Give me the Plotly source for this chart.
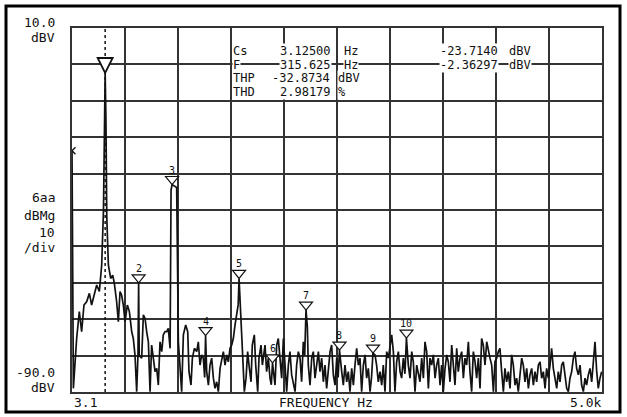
import plotly.graph_objects as go

W, H = 627, 417
L, R, T, B = 72, 25, 28, 25
PW = W - L - R
PH = H - T - B

# ---------------- data ----------------
freq_hz = [
    3.125, 16, 47, 72, 94, 116, 141, 167, 188, 211, 236, 261, 283, 300, 308, 315.625, 323, 331, 346,
    368, 387, 402, 424, 440, 456, 471, 487, 503, 525, 544, 566, 581, 597, 613, 625, 631.25, 637,
    660, 676, 692, 707, 723, 739, 754, 770, 786, 802, 817, 833, 849, 864, 880, 896, 911, 928, 937,
    946.875, 960, 975, 990, 1006, 1021, 1037, 1053, 1075, 1094, 1106, 1125, 1138, 1157, 1179, 1194,
    1210, 1226, 1241, 1254, 1262.5, 1273, 1289, 1304, 1320, 1336, 1351, 1367, 1383, 1399, 1414, 1430,
    1446, 1461, 1477, 1493, 1509, 1524, 1540, 1556, 1570, 1578.125, 1590, 1597, 1609, 1628, 1644,
    1659, 1672, 1691, 1703, 1722, 1735, 1754, 1766, 1785, 1798, 1823, 1838, 1854, 1870, 1882,
    1893.75, 1905, 1917, 1933, 1948, 1964, 1980, 1996, 2011, 2027, 2043, 2058, 2074, 2090, 2106,
    2121, 2137, 2153, 2168, 2184, 2197, 2209.375, 2222, 2231, 2247, 2263, 2278, 2294, 2310, 2326,
    2341, 2357, 2373, 2388, 2404, 2420, 2436, 2451, 2467, 2483, 2499, 2512, 2525, 2546, 2561, 2577,
    2593, 2608, 2624, 2640, 2656, 2671, 2687, 2703, 2718, 2734, 2750, 2766, 2781, 2797, 2813, 2827,
    2840.625, 2860, 2875, 2891, 2907, 2923, 2938, 2954, 2970, 2986, 3001, 3017, 3033, 3048, 3064,
    3080, 3096, 3111, 3127, 3142, 3156.25, 3174, 3190, 3206, 3221, 3237, 3253, 3268, 3284, 3300,
    3316, 3331, 3347, 3363, 3378, 3394, 3410, 3426, 3441, 3457, 3473, 3488, 3504, 3520, 3536, 3551,
    3567, 3583, 3598, 3614, 3630, 3645, 3661, 3677, 3693, 3708, 3724, 3740, 3755, 3771, 3787, 3803,
    3818, 3834, 3850, 3865, 3881, 3897, 3913, 3928, 3944, 3960, 3976, 3991, 4007, 4023, 4038, 4054,
    4070, 4085, 4101, 4117, 4133, 4148, 4164, 4180, 4195, 4211, 4227, 4243, 4258, 4274, 4290, 4306,
    4321, 4337, 4353, 4368, 4384, 4400, 4416, 4431, 4447, 4463, 4478, 4494, 4510, 4525, 4541, 4557,
    4573, 4588, 4604, 4620, 4635, 4651, 4667, 4683, 4698, 4714, 4730, 4745, 4761, 4777, 4793, 4808,
    4824, 4840, 4855, 4871, 4887, 4903, 4918, 4934, 4950, 4965, 4981, 4997,
]
level_dbv = [
    -23.7, -89.0, -75.3, -67.9, -73.4, -66.1, -65.2, -62.9, -66.1, -63.8, -60.6, -62.4, -55.1, -40.0, -15.0, -2.36, -15.0, -42.0, -55.1,
    -58.8, -57.9, -60.1, -65.2, -70.7, -62.4, -63.4, -66.1, -70.7, -66.1, -67.9, -73.4, -75.3, -79.8, -89.9, -80.0, -60.0, -80.0,
    -80.7, -68.8, -69.8, -73.4, -76.2, -89.9, -77.1, -80.7, -84.4, -83.5, -88.1, -76.2, -78.9, -74.3, -73.4, -73.4, -72.5, -78.0, -34.5,
    -33.0, -33.3, -33.5, -33.8, -76.2, -82.6, -89.9, -74.3, -71.6, -73.4, -84.4, -88.1, -80.7, -78.0, -78.9, -76.2,
    -82.6, -79.8, -80.7, -86.0, -74.5, -84.4, -88.1, -82.6, -80.7, -86.2, -89.0, -87.2, -89.9, -83.5, -80.7, -78.9,
    -82.6, -79.8, -81.7, -78.0, -77.1, -75.3, -71.6, -67.9, -66.0, -58.8, -66.0, -71.6, -80.7, -89.9, -86.2,
    -78.9, -82.6, -87.2, -77.1, -74.3, -82.6, -89.9, -80.7, -77.1, -82.6, -77.1, -84.4, -80.7, -86.2, -88.0,
    -82.0, -86.0, -88.1, -77.1, -75.3, -80.7, -86.2, -75.3, -82.6, -89.9, -82.6, -78.9, -85.3, -88.1, -89.9,
    -82.6, -78.9, -80.7, -87.2, -76.2, -80.0, -67.5, -72.0, -82.6, -88.1, -80.7, -78.9, -86.2, -82.6, -78.9,
    -84.4, -80.7, -87.2, -82.6, -89.0, -83.5, -78.9, -77.1, -85.3, -88.1, -80.7, -86.0, -78.5, -84.4, -88.1, -82.6,
    -87.2, -84.4, -89.9, -83.5, -88.1, -82.6, -78.0, -82.6, -80.7, -89.9, -82.6, -79.8, -86.2, -83.5, -89.9, -86.0,
    -79.3, -79.8, -82.6, -87.2, -84.4, -88.1, -82.6, -89.9, -78.9, -80.7, -77.1, -74.3, -78.9, -89.9, -81.7,
    -78.9, -84.4, -86.2, -80.7, -85.0, -75.2, -82.6, -86.2, -78.9, -81.7, -89.9, -82.6, -84.4, -87.2, -80.7,
    -86.2, -76.2, -78.9, -89.0, -80.7, -82.6, -79.8, -86.2, -82.6, -80.7, -88.1, -82.6, -89.9, -83.5, -79.8, -81.7,
    -87.2, -77.1, -82.6, -88.1, -78.0, -84.4, -80.7, -78.9, -86.2, -80.7, -82.6, -76.2, -84.4, -89.9, -78.9, -81.7,
    -86.2, -80.7, -89.0, -75.3, -77.1, -82.6, -76.2, -78.9, -80.7, -82.6, -89.9, -81.7, -80.7, -78.9, -78.0, -84.4,
    -89.9, -83.5, -87.2, -84.4, -89.0, -79.8, -82.6, -88.1, -86.2, -89.9, -84.4, -80.7, -82.6, -87.2, -83.5, -89.0,
    -85.3, -83.5, -88.1, -84.4, -87.2, -82.6, -81.7, -86.2, -84.4, -89.0, -83.5, -86.2, -82.6, -78.0, -83.5, -86.2,
    -89.0, -84.4, -87.2, -82.6, -81.7, -85.3, -89.0, -89.9, -86.2, -84.4, -80.7, -78.9, -83.5, -85.3, -82.6, -88.1,
    -89.9, -86.2, -88.1, -85.3, -83.5, -87.2, -82.6, -76.2, -84.4, -89.0, -86.2, -84.4,
]

harm_num = [1, 2, 3, 4, 5, 6, 7, 8, 9, 10]
harm_freq = [315.625, 631.25, 946.875, 1262.5, 1578.125, 1893.75, 2209.375, 2525.0, 2840.625, 3156.25]
harm_level = [-2.36, -60.0, -33.0, -74.5, -58.8, -82.0, -67.5, -78.5, -79.3, -75.2]

cursor_freq = [3.125]
cursor_level = [-23.714]

x_range = [3.1, 5000.0]
y_range = [-90.0, 10.0]

readout_rows = [
    [("Cs", 232), ("3.12500", 279), ("Hz", 343), ("-23.7140", 439), ("dBV", 508)],
    [("F", 232), ("315.625", 279), ("Hz", 343), ("-2.36297", 439), ("dBV", 508)],
    [("THP", 232), ("-32.8734", 271), ("dBV", 337)],
    [("THD", 232), ("2.98179", 279), ("%", 337)],
]
readout_y = [51, 64.5, 78, 91.5]

left_labels = [("10.0", 22.5), ("dBV", 37.5), ("6aa", 197), ("dBMg", 216), ("10", 232),
               ("/div", 247.5), ("-90.0", 372.5), ("dBV", 387)]

# ---------------- helpers ----------------
def px(x):
    return (x - L) / PW

def py(y):
    return (H - B - y) / PH

FONT = "DejaVu Sans Mono"
INK = "#111111"
GRID = "#333333"

fig = go.Figure()
fig.add_trace(go.Scatter(x=freq_hz, y=level_dbv, mode="lines",
                         line=dict(color="#121212", width=1.7), hoverinfo="skip"))
fig.add_trace(go.Scatter(x=cursor_freq, y=cursor_level, mode="markers",
                         marker=dict(symbol="x-thin", size=7, line=dict(color=INK, width=1.3)),
                         hoverinfo="skip"))

shapes = []
# fundamental dotted marker line
shapes.append(dict(type="line", xref="x", yref="y", x0=harm_freq[0], x1=harm_freq[0],
                   y0=y_range[0], y1=y_range[1], line=dict(color=INK, width=1.5, dash="dot")))
# marker triangles (tip at the peak)
for n, f, lv in zip(harm_num, harm_freq, harm_level):
    if n == 1:
        path = "M -7.5,15 L 7.5,15 L 0,0 Z"
        lw = 1.8
    else:
        path = "M -6.5,8 L 6.5,8 L 0,0 Z"
        lw = 1.2
    shapes.append(dict(type="path", xref="x", yref="y", xsizemode="pixel", ysizemode="pixel",
                       xanchor=f, yanchor=lv, path=path, fillcolor="white",
                       line=dict(color=INK, width=lw)))
# outer frame
shapes.append(dict(type="rect", xref="paper", yref="paper", x0=px(6), x1=px(620), y0=py(6), y1=py(412),
                   line=dict(color="black", width=3), layer="above"))

ann = []
for n, f, lv in zip(harm_num, harm_freq, harm_level):
    if n == 1:
        continue
    ann.append(dict(x=f, y=lv, xref="x", yref="y", text=str(n), showarrow=False,
                    yanchor="bottom", yshift=7, font=dict(family=FONT, size=10, color=INK)))

for row, yy in zip(readout_rows, readout_y):
    for txt, xx in row:
        ann.append(dict(x=px(xx), y=py(yy), xref="paper", yref="paper", text=txt, showarrow=False,
                        xanchor="left", yanchor="middle", bgcolor="white", borderpad=0,
                        font=dict(family=FONT, size=12, color=INK)))

for txt, yy in left_labels:
    ann.append(dict(x=px(57), y=py(yy), xref="paper", yref="paper", text=txt, showarrow=False,
                    xanchor="right", yanchor="middle", font=dict(family=FONT, size=13, color=INK)))

ann.append(dict(x=px(72), y=py(403), xref="paper", yref="paper", text="3.1", showarrow=False,
                xanchor="left", yanchor="middle", font=dict(family=FONT, size=13, color=INK)))
ann.append(dict(x=px(326), y=py(403), xref="paper", yref="paper", text="FREQUENCY Hz", showarrow=False,
                xanchor="center", yanchor="middle", font=dict(family=FONT, size=13, color=INK)))
ann.append(dict(x=px(603), y=py(403), xref="paper", yref="paper", text="5.0k", showarrow=False,
                xanchor="right", yanchor="middle", font=dict(family=FONT, size=13, color=INK)))

axis_common = dict(showgrid=True, gridcolor=GRID, gridwidth=1.5, zeroline=False,
                   showline=True, linecolor=GRID, linewidth=1.5, mirror=True,
                   showticklabels=False, ticks="", fixedrange=True)

fig.update_layout(
    width=W, height=H,
    margin=dict(l=L, r=R, t=T, b=B),
    paper_bgcolor="white", plot_bgcolor="white",
    showlegend=False,
    xaxis=dict(range=x_range, tickmode="linear", tick0=x_range[0],
               dtick=(x_range[1] - x_range[0]) / 10, **axis_common),
    yaxis=dict(range=y_range, tickmode="linear", tick0=y_range[0], dtick=10, **axis_common),
    shapes=shapes,
    annotations=ann,
)

fig.write_html("out.html", config={"displayModeBar": False},
               post_script="document.body.style.margin='0';document.body.style.overflow='hidden';")
